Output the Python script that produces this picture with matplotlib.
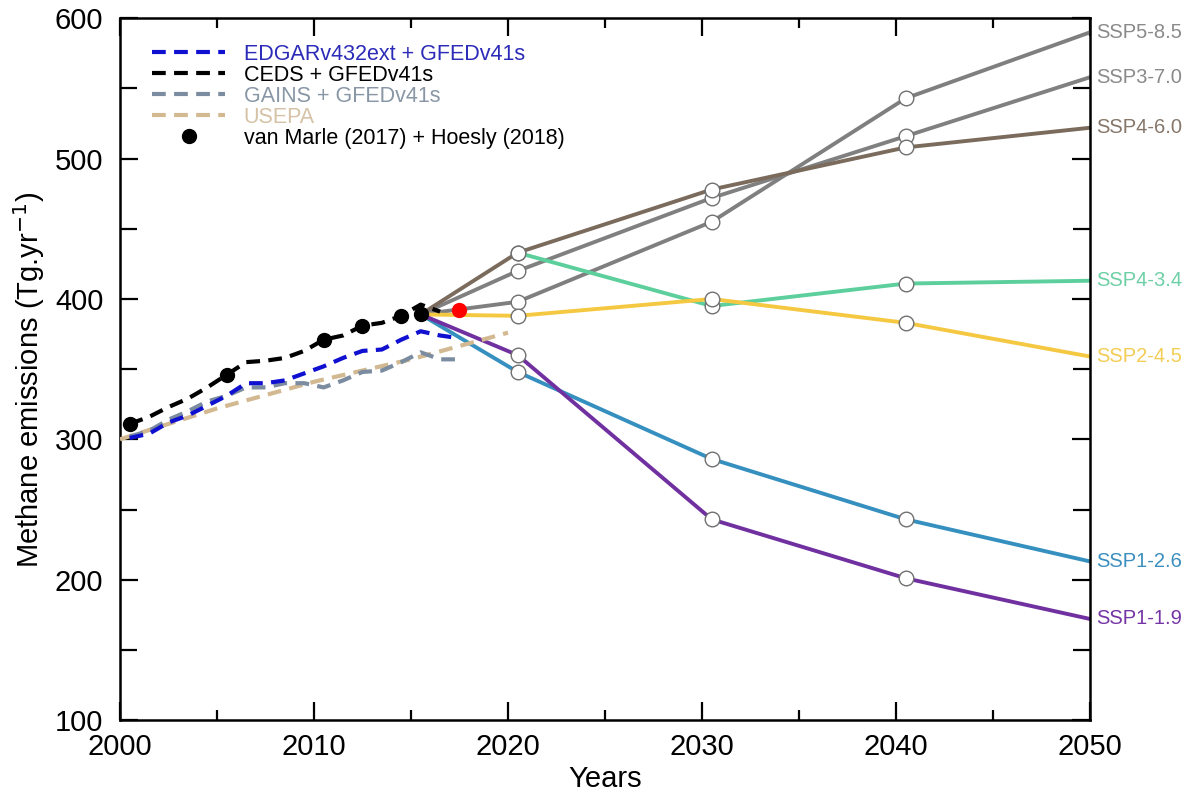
import numpy as np
from matplotlib import pyplot as plt
from matplotlib.ticker import MultipleLocator

plt.rcParams['font.family'] = ['Liberation Sans', 'DejaVu Sans']

# Historical inventories (annual means, plotted mid-year)
hist_years = np.arange(2000, 2018)
edgar = [301, 304, 312, 317, 324, 331, 340, 340, 342, 347, 352, 358, 363, 364, 371, 377, 374, 372]
gains = [302, 306, 314, 320, 327, 331, 337, 337, 340, 340, 337, 342, 348, 349, 355, 362, 357, 357]
ceds_years = np.arange(2000, 2017)
ceds = [311, 316, 323, 329, 337, 346, 355, 356, 358, 363, 371, 374, 381, 383, 388, 396, 391]
usepa_years = [2000, 2005, 2010, 2015, 2020]
usepa = [300, 322, 341, 357, 376]

# van Marle + Hoesly points
vm_years = [2000, 2005, 2010, 2012, 2014, 2015]
vm_vals = [311, 346, 371, 381, 388, 389]

# red point
red_year = 2017
red_val = 392

# SSP scenarios
ssp_years = [2015.5, 2020.5, 2030.5, 2040.5, 2050]
ssp_names = ['SSP5-8.5', 'SSP3-7.0', 'SSP4-6.0', 'SSP4-3.4', 'SSP2-4.5', 'SSP1-2.6', 'SSP1-1.9']
ssp_vals = [
    [389, 398, 455, 543, 590],
    [389, 420, 472, 516, 558],
    [389, 433, 478, 508, 522],
    [389, 433, 395, 411, 413],
    [389, 388, 400, 383, 359],
    [389, 348, 286, 243, 213],
    [389, 360, 243, 201, 172],
]
ssp_start = [0, 0, 0, 1, 0, 0, 0]  # SSP4-3.4 branches off SSP4-6.0 in 2020
ssp_colors = ['#7f7f7f', '#808080', '#7a6b5c', '#5ccf9c', '#f5c842', '#3590c0', '#7030a0']
ssp_label_colors = ['#8a8a8a', '#8a8a8a', '#86776a', '#6dcfa5', '#f3cd55', '#3a8fbf', '#7535a5']

fig = plt.figure(figsize=(11.9, 7.95), dpi=100)
ax = fig.add_axes([0.1008, 0.0943, 0.8152, 0.8827])

# scenarios
for name, vals, s0, c, lc in zip(ssp_names, ssp_vals, ssp_start, ssp_colors, ssp_label_colors):
    mk = [i - s0 for i in (1, 2, 3) if i >= s0]
    ax.plot(ssp_years[s0:], vals[s0:], color=c, lw=2.8, zorder=2,
            marker='o', markevery=mk, markersize=10.5,
            markerfacecolor='white', markeredgecolor='#707070', markeredgewidth=1.0)
    ax.text(2050.3, vals[-1], name, color=lc, fontsize=14.5,
            ha='left', va='center', clip_on=False)

dash = (3.3, 2.0)
hx = np.array(hist_years) + 0.5
ax.plot(np.array(usepa_years), usepa, color='#d2b991', lw=3, dashes=dash, zorder=3,
        label='USEPA')
ax.plot(hx, gains, color='#7b8ca0', lw=3, dashes=dash, zorder=3,
        label='GAINS + GFEDv41s')
ax.plot(hx, edgar, color='#1010d0', lw=3, dashes=dash, zorder=4,
        label='EDGARv432ext + GFEDv41s')
ax.plot(np.array(ceds_years) + 0.5, ceds, color='black', lw=3, dashes=dash, zorder=5,
        label='CEDS + GFEDv41s')
ax.plot(np.array(vm_years) + 0.5, vm_vals, 'o', color='black', markersize=10, zorder=6,
        label='van Marle (2017) + Hoesly (2018)')
ax.plot(red_year + 0.5, red_val, 'o', color='red', markersize=10, zorder=6)

# legend in the reference order
handles, labels = ax.get_legend_handles_labels()
order = [2, 3, 1, 0, 4]
leg = ax.legend([handles[i] for i in order], [labels[i] for i in order],
                loc='upper left', bbox_to_anchor=(0.02, 0.982), frameon=False,
                fontsize=15.5, handlelength=3.4, handletextpad=0.85,
                labelspacing=0.0, borderaxespad=0.2)
text_colors = ['#2b2bb8', 'black', '#8896a6', '#d6c2a6', 'black']
for t, c in zip(leg.get_texts(), text_colors):
    t.set_color(c)

ax.set_xlim(2000, 2050)
ax.set_ylim(100, 600)
ax.xaxis.set_major_locator(MultipleLocator(10))
ax.xaxis.set_minor_locator(MultipleLocator(5))
ax.yaxis.set_major_locator(MultipleLocator(100))
ax.yaxis.set_minor_locator(MultipleLocator(50))
ax.tick_params(which='both', direction='in', top=True, right=True, width=1.6,
               labelsize=21)
ax.tick_params(axis='x', pad=9)
ax.tick_params(axis='y', pad=12)
ax.tick_params(which='major', length=13)
ax.tick_params(which='minor', length=7)
ax.tick_params(axis='y', which='minor', length=12)
for s in ax.spines.values():
    s.set_linewidth(1.8)

ax.set_xlabel('Years', fontsize=21, labelpad=3)
ax.set_ylabel('Methane emissions (Tg.yr$^{-1}$)', fontsize=21)
ax.yaxis.set_label_coords(-0.075, 0.485)

fig.savefig('out.png', dpi=100)
